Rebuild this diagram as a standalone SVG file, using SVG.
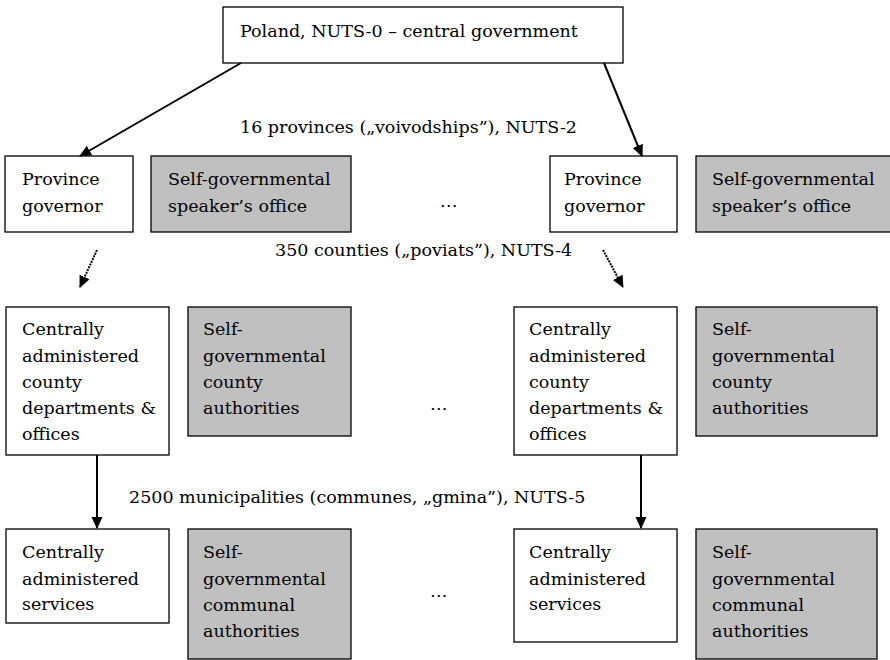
<svg xmlns="http://www.w3.org/2000/svg" width="890" height="660" viewBox="0 0 890 660" font-family="'DejaVu Serif', serif" font-size="17.5">
<defs>
<marker id="ah" markerWidth="12" markerHeight="12" refX="11" refY="5.5" orient="auto" markerUnits="userSpaceOnUse">
<path d="M0,0 L12,5.5 L0,11 Z" fill="#000"/>
</marker>
<style>
.w{fill:#fff;stroke:#000;stroke-width:1.3}
.g{fill:#c0c0c0;stroke:#000;stroke-width:1.3}
.a{stroke:#000;stroke-width:2;fill:none;marker-end:url(#ah)}
.d{stroke:#000;stroke-width:2;stroke-dasharray:2 1;fill:none;marker-end:url(#ah)}
</style>
</defs>
<rect width="890" height="660" fill="#fff"/>
<g id="top"><rect class="w" x="223" y="7" width="400" height="56"/><text x="240" y="37">Poland, NUTS-0 – central government</text></g>
<g id="lbl1"><text x="240" y="133">16 provinces („voivodships”), NUTS-2</text></g>
<g id="lbl2"><text x="275" y="256">350 counties („poviats”), NUTS-4</text></g>
<g id="lbl3"><text x="129" y="503">2500 municipalities (communes, „gmina”), NUTS-5</text></g>
<g id="pg1"><rect class="w" x="5" y="156" width="128" height="76"/><text x="22" y="185">Province</text><text x="22" y="212">governor</text></g>
<g id="so1"><rect class="g" x="151" y="156" width="200" height="76"/><text x="168" y="185">Self-governmental</text><text x="168" y="212">speaker’s office</text></g>
<g id="pg2"><rect class="w" x="550" y="156" width="127" height="76"/><text x="564" y="185">Province</text><text x="564" y="212">governor</text></g>
<g id="so2"><rect class="g" x="696" y="156" width="200" height="76"/><text x="712" y="185">Self-governmental</text><text x="712" y="212">speaker’s office</text></g>
<g id="e1"><text x="440" y="207">…</text></g>
<g id="cd1"><rect class="w" x="6" y="307" width="163" height="148"/><text x="22" y="335">Centrally</text><text x="22" y="362">administered</text><text x="22" y="388">county</text><text x="22" y="414">departments &amp;</text><text x="22" y="440">offices</text></g>
<g id="sc1"><rect class="g" x="188" y="307" width="163" height="129"/><text x="203" y="335">Self-</text><text x="203" y="362">governmental</text><text x="203" y="388">county</text><text x="203" y="414">authorities</text></g>
<g id="cd2"><rect class="w" x="514" y="307" width="163" height="148"/><text x="529" y="335">Centrally</text><text x="529" y="362">administered</text><text x="529" y="388">county</text><text x="529" y="414">departments &amp;</text><text x="529" y="440">offices</text></g>
<g id="sc2"><rect class="g" x="696" y="307" width="181" height="129"/><text x="712" y="335">Self-</text><text x="712" y="362">governmental</text><text x="712" y="388">county</text><text x="712" y="414">authorities</text></g>
<g id="e2"><text x="430" y="410">…</text></g>
<g id="cs1"><rect class="w" x="6" y="529" width="163" height="94"/><text x="22" y="558">Centrally</text><text x="22" y="585">administered</text><text x="22" y="610">services</text></g>
<g id="sm1"><rect class="g" x="188" y="529" width="163" height="130"/><text x="203" y="558">Self-</text><text x="203" y="585">governmental</text><text x="203" y="611">communal</text><text x="203" y="637">authorities</text></g>
<g id="cs2"><rect class="w" x="514" y="529" width="163" height="113"/><text x="529" y="558">Centrally</text><text x="529" y="585">administered</text><text x="529" y="610">services</text></g>
<g id="sm2"><rect class="g" x="696" y="529" width="181" height="130"/><text x="712" y="558">Self-</text><text x="712" y="585">governmental</text><text x="712" y="611">communal</text><text x="712" y="637">authorities</text></g>
<g id="e3"><text x="430" y="597">…</text></g>
<g id="connectors">
<line class="a" x1="241" y1="63" x2="80" y2="156"/>
<line class="a" x1="604" y1="63" x2="642" y2="156"/>
<line class="d" x1="97" y1="250" x2="80" y2="287"/>
<line class="d" x1="603" y1="250" x2="623" y2="287"/>
<line class="a" x1="97" y1="455" x2="97" y2="528"/>
<line class="a" x1="641" y1="455" x2="641" y2="528"/>
</g>
</svg>
